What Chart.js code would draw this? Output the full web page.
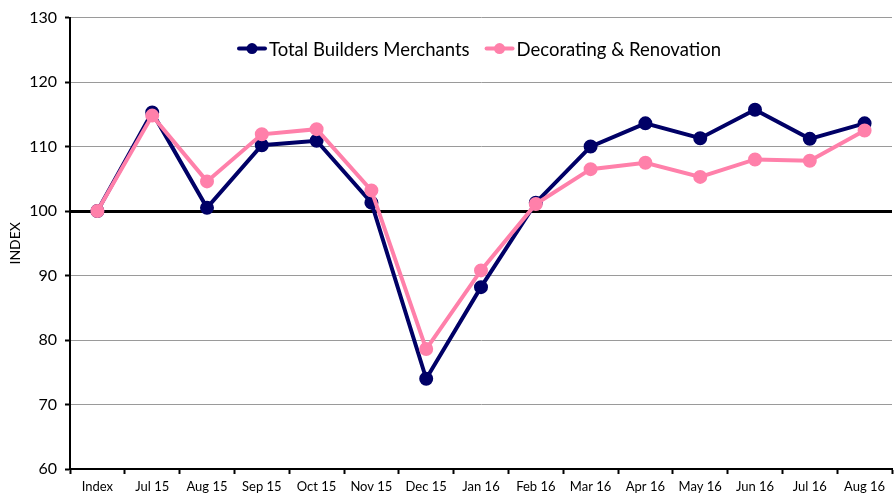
<!DOCTYPE html>
<html>
<head>
<meta charset="utf-8">
<script src="https://cdn.jsdelivr.net/npm/chart.js@4.4.1/dist/chart.umd.min.js"></script>
<style>
  html, body { margin: 0; padding: 0; background: #fff; overflow: hidden; }
  #clip { width: 894px; height: 495px; overflow: hidden; position: relative; }
  #myChart { display: block; position: absolute; left: 0; top: 0;
    width: 901px !important; height: 495px !important; max-width: none !important; max-height: none !important; }
</style>
</head>
<body>
<div id="clip"><canvas id="myChart" width="901" height="495"></canvas></div>
<script>
const months = ['Index', 'Jul 15', 'Aug 15', 'Sep 15', 'Oct 15', 'Nov 15', 'Dec 15', 'Jan 16',
  'Feb 16', 'Mar 16', 'Apr 16', 'May 16', 'Jun 16', 'Jul 16', 'Aug 16'];
const totalBM = [100, 115.3, 100.5, 110.2, 110.9, 101.3, 74.0, 88.2, 101.3, 110.0, 113.6, 111.3, 115.7, 111.2, 113.6];
const decoReno = [100, 114.8, 104.6, 111.9, 112.7, 103.2, 78.6, 90.8, 101.1, 106.5, 107.5, 105.3, 108.0, 107.8, 112.5];
const yTicks = [60, 70, 80, 90, 100, 110, 120, 130];

const NAVY = '#000066';
const PINK = '#ff80aa';

// legend drawn inside the plot, line + dot then the label
const insideLegend = {
  id: 'insideLegend',
  afterDatasetsDraw(chart) {
    const g = chart.ctx;
    const area = chart.chartArea;
    g.save();
    g.font = '18.5px Lato';
    g.textBaseline = 'middle';
    const items = chart.data.datasets.map(ds => ({ ds, w: 30 + 2 + g.measureText(ds.label).width }));
    const gap = 15;
    let total = items.reduce((a, it) => a + it.w, 0) + gap * (items.length - 1);
    let x = (area.left + area.right) / 2 - total / 2 - 2;
    const y = area.top + 31;
    items.forEach(it => {
      const c = it.ds.borderColor;
      g.strokeStyle = c; g.lineWidth = 4; g.lineCap = 'round';
      g.beginPath(); g.moveTo(x + 2, y); g.lineTo(x + 28, y); g.stroke();
      g.fillStyle = c;
      g.beginPath(); g.arc(x + 15, y, 5.5, 0, Math.PI * 2); g.fill();
      g.fillStyle = '#000';
      g.fillText(it.ds.label, x + 32, y + 1);
      x += it.w + gap;
    });
    g.restore();
  }
};

const ctx = document.getElementById('myChart');
const chart = new Chart(ctx, {
  type: 'line',
  data: {
    labels: months,
    datasets: [
      {
        label: 'Total Builders Merchants',
        data: totalBM,
        borderColor: NAVY,
        backgroundColor: NAVY,
        borderWidth: 4,
        pointRadius: 5,
        pointHoverRadius: 5,
        tension: 0,
        order: 1
      },
      {
        label: 'Decorating & Renovation',
        data: decoReno,
        borderColor: PINK,
        backgroundColor: PINK,
        borderWidth: 4,
        pointRadius: 5,
        pointHoverRadius: 5,
        tension: 0,
        order: 0
      }
    ]
  },
  plugins: [insideLegend],
  options: {
    responsive: false,
    animation: false,
    devicePixelRatio: 1,
    layout: { padding: { top: 15, right: 0, left: 0, bottom: 0 } },
    plugins: {
      tooltip: { enabled: false },
      legend: { display: false }
    },
    scales: {
      x: {
        offset: true,
        afterFit: (s) => { s.height = 26; s.paddingLeft = 0; s.paddingRight = 0; },
        grid: { display: true, offset: true, drawOnChartArea: false, drawTicks: true, tickLength: 5, tickColor: '#000', tickWidth: 2 },
        border: { display: true, color: '#000', width: 2 },
        ticks: { color: '#000', font: { family: 'Lato', size: 13 }, padding: 5, maxRotation: 0, autoSkip: false }
      },
      y: {
        min: 60,
        max: 130,
        afterFit: (s) => { s.width = 70; },
        afterBuildTicks: (s) => { s.ticks = yTicks.map(v => ({ value: v })); },
        title: { display: true, text: 'INDEX', color: '#000', font: { family: 'Lato', size: 14 }, padding: { top: 7, bottom: 0 } },
        grid: {
          color: (c) => c.tick && c.tick.value === 100 ? '#000' : '#9a9a9a',
          lineWidth: (c) => c.tick && c.tick.value === 100 ? 3 : 1,
          tickLength: 5,
          tickColor: '#000',
          tickWidth: 2
        },
        border: { display: true, color: '#000', width: 2 },
        ticks: { color: '#000', font: { family: 'Lato', size: 16 }, padding: 8 }
      }
    }
  }
});
</script>
</body>
</html>
